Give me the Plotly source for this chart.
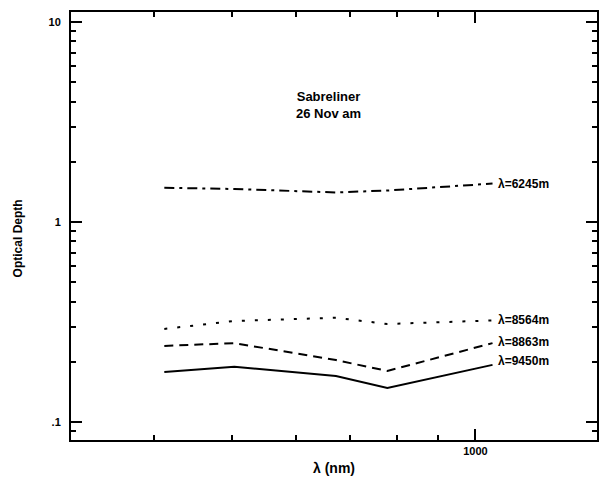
import plotly.graph_objects as go
import math

# data
wavelength = [412, 503, 672, 778, 1050]
od_6245 = [1.484, 1.462, 1.405, 1.437, 1.556]
od_8564 = [0.292, 0.320, 0.332, 0.309, 0.322]
od_8863 = [0.240, 0.248, 0.204, 0.180, 0.248]
od_9450 = [0.178, 0.189, 0.170, 0.148, 0.193]

series = [
    ("λ=6245m", od_6245, "10px,5px,3px,5px"),
    ("λ=8564m", od_8564, "3px,10px"),
    ("λ=8863m", od_8863, "9px,6px"),
    ("λ=9450m", od_9450, "solid"),
]
label_yshift = [0, 0, 1, 4]

x_minor = [300, 400, 500, 600, 700, 800, 900, 2000]
y_minor = [m * 10 ** e for e in (-2, -1, 0, 1) for m in range(2, 10)]

FONT = "Liberation Sans"
X_RANGE = [2.4994, 3.1505]
Y_RANGE = [-1.09, 1.05]

fig = go.Figure()
for (name, vals, dash), ys in zip(series, label_yshift):
    fig.add_trace(go.Scatter(x=wavelength, y=vals, mode="lines",
                             line=dict(color="black", width=2, dash=dash),
                             showlegend=False, hoverinfo="skip"))
    fig.add_annotation(x=math.log10(wavelength[-1]), y=math.log10(vals[-1]),
                       xref="x", yref="y", text="<b>" + name + "</b>",
                       showarrow=False, xanchor="left", yanchor="middle",
                       xshift=3, yshift=ys,
                       font=dict(family=FONT, size=12, color="black"))

# helper trace so the minor-tick overlay axes get drawn
fig.add_trace(go.Scatter(x=[None], y=[None], xaxis="x2", yaxis="y2",
                         showlegend=False, hoverinfo="skip"))

fig.add_annotation(x=0.489, y=0.783, xref="paper", yref="paper",
                   text="<b>Sabreliner<br>26 Nov am</b>", showarrow=False,
                   xanchor="center", yanchor="middle",
                   font=dict(family=FONT, size=13, color="black"))
fig.add_annotation(x=-0.10, y=0.472, xref="paper", yref="paper",
                   text="<b>Optical Depth</b>", showarrow=False, textangle=-90,
                   xanchor="center", yanchor="middle",
                   font=dict(family=FONT, size=12, color="black"))
fig.add_annotation(x=0.5, y=-0.065, xref="paper", yref="paper",
                   text="<b>λ (nm)</b>", showarrow=False,
                   xanchor="center", yanchor="middle",
                   font=dict(family=FONT, size=14, color="black"))

axis_common = dict(type="log", showgrid=False, zeroline=False, showline=True,
                   linecolor="black", linewidth=2, mirror="allticks",
                   ticks="inside", tickcolor="black", tickwidth=2, ticklen=11,
                   tickmode="linear", tick0=0, dtick=1,
                   tickfont=dict(family=FONT, size=11, color="black", weight="bold"))

minor_common = dict(tickmode="array", ticks="inside", ticklen=5, tickwidth=1.5,
                    tickcolor="black", mirror="ticks", showticklabels=False,
                    showgrid=False, zeroline=False, showline=False)

fig.update_layout(
    width=603, height=478,
    margin=dict(l=71, r=4, t=12, b=38),
    paper_bgcolor="white", plot_bgcolor="white",
    xaxis=dict(range=X_RANGE, **axis_common),
    yaxis=dict(range=Y_RANGE, ticklabelstandoff=6,
               labelalias={"0.1": ".1"}, **axis_common),
    xaxis2=dict(type="log", range=X_RANGE, overlaying="x", anchor="y2",
                side="bottom", tickvals=x_minor, **minor_common),
    yaxis2=dict(type="log", range=Y_RANGE, overlaying="y", anchor="x2",
                side="left", tickvals=y_minor, **minor_common),
)

fig.write_html("out.html")
